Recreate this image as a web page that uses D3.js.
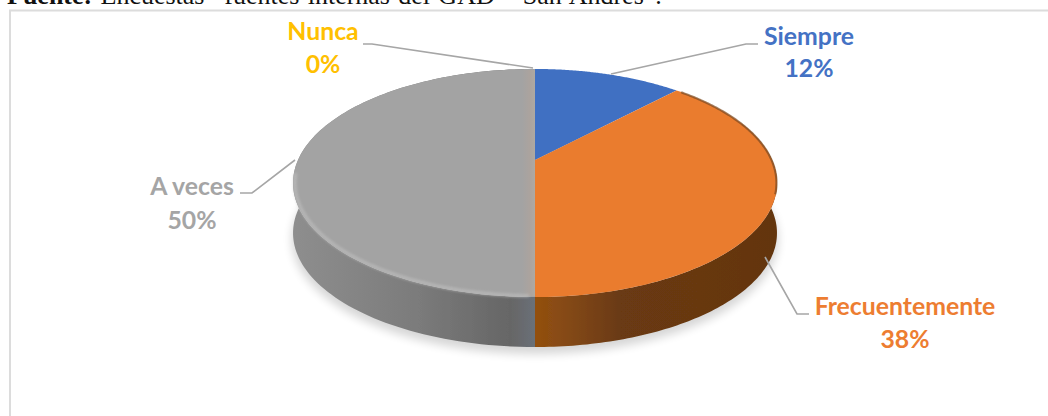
<!DOCTYPE html>
<html><head><meta charset="utf-8">
<script src="https://cdnjs.cloudflare.com/ajax/libs/d3/7.8.5/d3.min.js"></script>
<style>html,body{margin:0;padding:0;background:#fff;overflow:hidden}svg{display:block}</style>
</head><body><svg id="c" width="1048" height="416"></svg>
<script>
const categories = ["Siempre","Frecuentemente","A veces","Nunca"];
const values = [12,38,50,0];
const colors = ["#4070c2","#ea7c2f","#a3a3a3","#ffc000"];
const labelColors = ["#4472c4","#ed7d31","#a5a5a5","#ffc000"];
const W=1048,H=416;
const svg=d3.select("#c");
const defs=svg.append("defs");
const cx=535,cy=160,a=237,b=109.4,k=0.2017,depth=50;
// perspective projection of a unit disc onto the page
const proj=(t,r=1,dy=0)=>{const u=r*Math.sin(t),v=-r*Math.cos(t),w=1-k*v;
  return [cx+a*u/w, cy+b*v/w+dy];};
const line=d3.line();
const sample=(t0,t1,r=1,dy=0)=>d3.range(0,121).map(i=>proj(t0+(t1-t0)*i/120,r,dy));
const pie=d3.pie().sort(null).value(d=>d)(values);

// frame & caption
svg.append("rect").attr("x",10).attr("y",10.5).attr("width",1060).attr("height",430)
  .attr("fill","#fff").attr("stroke","#dcdcdc").attr("stroke-width",2);
const cap=svg.append("text").attr("x",7).attr("y",4).attr("font-family","Liberation Serif").attr("font-size",26).attr("word-spacing",1.8).attr("fill","#111");
cap.append("tspan").attr("font-weight","bold").text("Fuente:");
cap.append("tspan").text(" Encuestas “fuentes internas del GAD ” San Andrés”.");

// filters
const mk=(id,s)=>defs.append("filter").attr("id",id).attr("x","-15%").attr("y","-15%").attr("width","130%").attr("height","140%")
  .append("feGaussianBlur").attr("stdDeviation",s);
mk("sh",5);mk("soft",0.6);mk("bev",1.4);

// soft shadow
svg.append("path").attr("d",line(sample(0,2*Math.PI,1.005,56))+"Z").attr("fill","#000").attr("opacity",.16).attr("filter","url(#sh)");

const pieG=svg.append("g").attr("filter","url(#soft)");

// side wall
const grad=(id,x1,x2,stops)=>{const g=defs.append("linearGradient").attr("id",id).attr("gradientUnits","userSpaceOnUse")
  .attr("x1",x1).attr("x2",x2).attr("y1",0).attr("y2",0);
  stops.forEach(s=>g.append("stop").attr("offset",s[0]).attr("stop-color",s[1]));};
grad("gl",292,535,[[0,"#8e8e8e"],[.5,"#7c7c7c"],[.9,"#666"],[1,"#6a7078"]]);
grad("gr",535,776,[[0,"#93500f"],[.12,"#864a14"],[.35,"#6a3a12"],[1,"#643510"]]);
const wall=(t0,t1,fill)=>{const top=sample(t0,t1),bot=sample(t1,t0,1,depth);
  pieG.append("path").attr("d",line(top.concat(bot))+"Z").attr("fill",fill);};
wall(pie[1].startAngle+0.45,Math.PI+0.001,"url(#gr)");
wall(Math.PI,pie[2].endAngle,"url(#gl)");

// top face
pie.forEach((p,i)=>{ if(p.endAngle-p.startAngle<=0) return;
  pieG.append("path").attr("d",line([proj(0,0)].concat(sample(p.startAngle,p.endAngle)))+"Z").attr("fill",colors[i]);});
// seam
grad("seam",522,535,[[0,"#a3a3a3"],[.6,"#aba39e"],[1,"#aea9a2"]]);
pieG.append("rect").attr("x",522).attr("width",13).attr("y",70).attr("height",226).attr("fill","url(#seam)");
// dark rim on the upper right of the orange face
pieG.append("path").attr("d",line(sample(pie[1].startAngle+0.03,Math.PI/2+0.3,0.998))).attr("fill","none").attr("stroke","#7a4a22").attr("stroke-width",2.2).attr("opacity",.7);
// bevel highlight on the grey face
svg.append("path").attr("d",line(sample(Math.PI+0.02,1.5*Math.PI-0.12,0.993))).attr("fill","none").attr("stroke","#c4c4c4").attr("stroke-width",2.6).attr("opacity",.75).attr("filter","url(#bev)");

// leaders and labels
const pts=[[[758,44],[746,44],[611,74]],[[809,314],[797,314],[765,257]],[[240,193],[252,193],[295,160]],[[363,44],[372,44],[533,68]]];
const labelPos=[[809,36,68],[905,306,339],[192,186,220],[323,31,64]];
categories.forEach((c,i)=>{
  svg.append("path").attr("d",line(pts[i])).attr("fill","none").attr("stroke","#a6a6a6").attr("stroke-width",1.6);
  const [x,y1,y2]=labelPos[i];
  const t=svg.append("g").attr("font-family","Lato").attr("font-weight","bold").attr("font-size",24.8).attr("fill",labelColors[i]).attr("text-anchor","middle");
  t.append("text").attr("x",x).attr("y",y1+9).text(c);
  t.append("text").attr("x",x).attr("y",y2+9).text(values[i]+"%");
});
</script></body></html>
